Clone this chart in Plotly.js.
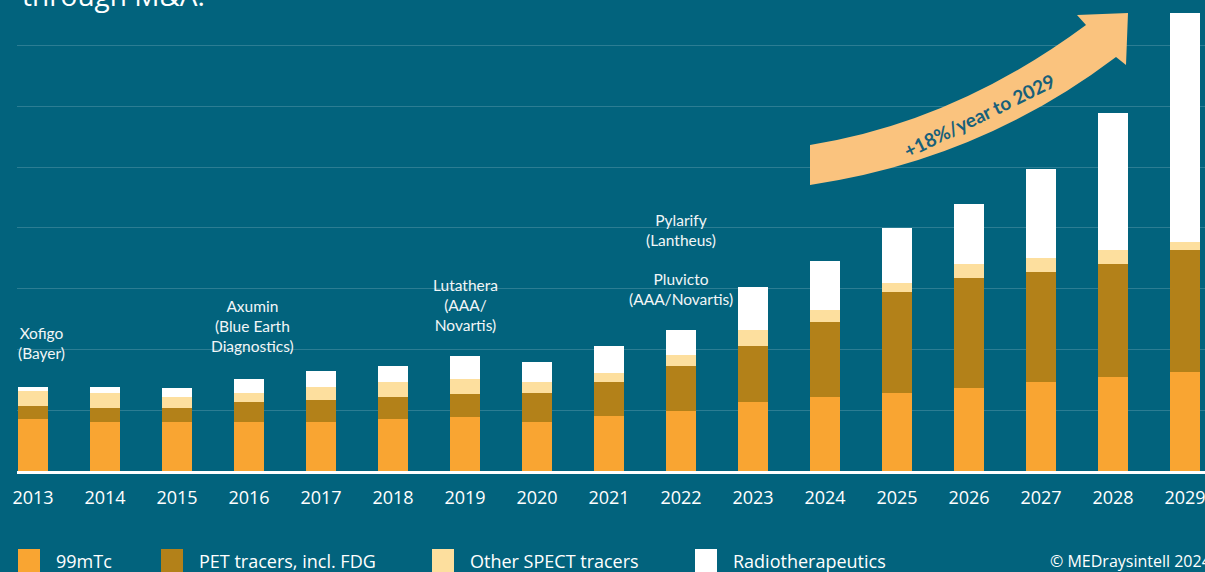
<!DOCTYPE html>
<html>
<head>
<meta charset="utf-8">
<script src="https://cdn.plot.ly/plotly-3.0.1.min.js"></script>
<style>
html,body{margin:0;padding:0;background:#02637D;}
#chart{width:1205px;height:572px;}
</style>
</head>
<body>
<div id="chart"></div>
<script>
// ---- data (one gridline = 1 unit) ----
const years = ["2013","2014","2015","2016","2017","2018","2019","2020","2021","2022","2023","2024","2025","2026","2027","2028","2029"];
const tc99m      = [0.85,0.81,0.81,0.81,0.81,0.86,0.89,0.81,0.91,0.99,1.14,1.22,1.28,1.37,1.47,1.55,1.63];
const petTracers = [0.22,0.22,0.22,0.32,0.35,0.36,0.38,0.47,0.55,0.74,0.92,1.23,1.66,1.80,1.80,1.85,2.00];
const otherSpect = [0.25,0.25,0.19,0.15,0.22,0.25,0.24,0.18,0.16,0.17,0.26,0.20,0.16,0.23,0.23,0.24,0.14];
const radioTher  = [0.06,0.10,0.15,0.23,0.26,0.26,0.38,0.33,0.44,0.42,0.70,0.80,0.89,0.99,1.46,2.25,3.77];
const seriesNames = ["99mTc","PET tracers, incl. FDG","Other SPECT tracers","Radiotherapeutics"];
const seriesColors = ["#F9A532","#B38119","#FDDF9E","#FFFFFF"];
const launchYears  = ["2013","2016","2019","2022","2022"];
const launchLevels = [2.11, 2.385, 2.73, 3.97, 3.0];
const launchTexts  = ["Xofigo<br>(Bayer)","Axumin<br>(Blue Earth<br>Diagnostics)","Lutathera<br>(AAA/<br>Novartis)","Pylarify<br>(Lantheus)","Pluvicto<br>(AAA/Novartis)"];
const growthLabel = "+18%/year to 2029";
const titleTail = "through M&A.";
const copyright = "© MEDraysintell 2024";

// ---- layout helpers (pixel -> paper) ----
const L = 17, T = 0, PW = 1188, PH = 471;
const px = x => (x - L) / PW;
const py = y => (PH + T - y) / PH;

const values = [tc99m, petTracers, otherSpect, radioTher];
const traces = values.map((v, i) => ({
  type: "bar", x: years, y: v, name: seriesNames[i],
  marker: {color: seriesColors[i], line: {width: 0}},
  hoverinfo: "x+y+name"
}));

const shapes = [];
const annotations = [];

// growth arrow
const arrowPath =
  "M" + px(810) + "," + py(145) +
  " Q" + px(955) + "," + py(122) + " " + px(1086) + "," + py(25) +
  " L" + px(1077) + "," + py(15) +
  " L" + px(1128) + "," + py(13) +
  " L" + px(1126) + "," + py(65) +
  " L" + px(1116) + "," + py(57) +
  " Q" + px(980) + "," + py(160) + " " + px(810) + "," + py(185) + " Z";
shapes.push({type: "path", xref: "paper", yref: "paper", path: arrowPath,
  fillcolor: "#FAC37E", line: {width: 0}, layer: "above"});

annotations.push({xref: "paper", yref: "paper", x: px(979), y: py(116),
  xanchor: "center", yanchor: "middle",
  text: growthLabel, showarrow: false, textangle: -26,
  font: {family: "Lato", size: 19, weight: "bold", color: "#17607A"}});

// launch labels (x as category index)
const launchShift = [8, 3, 0, 0, 0];
launchYears.forEach((yr, i) => {
  annotations.push({xref: "x", yref: "y", x: years.indexOf(yr), y: launchLevels[i], text: launchTexts[i],
    showarrow: false, align: "center", xanchor: "center", yanchor: "middle", xshift: launchShift[i],
    font: {family: "Lato", size: 15.5, color: "#F2F6F7"}});
});

// title tail (cut off at the top)
annotations.push({xref: "paper", yref: "paper", x: px(20), y: 1, xanchor: "left", yanchor: "bottom",
  yshift: -16, text: titleTail, showarrow: false,
  font: {family: "Open Sans", size: 28, color: "#FFFFFF"}});

// manual legend
const legendX = [18, 161, 432, 695];
seriesNames.forEach((n, i) => {
  shapes.push({type: "rect", xref: "paper", yref: "paper",
    x0: px(legendX[i]), x1: px(legendX[i] + 22), y0: py(549), y1: py(580),
    fillcolor: seriesColors[i], line: {width: 0}});
  annotations.push({xref: "paper", yref: "paper", x: px(legendX[i] + 37), y: py(561),
    xanchor: "left", yanchor: "middle", text: n, showarrow: false, borderpad: 0,
    font: {family: "Open Sans", size: 18, color: "#FFFFFF"}});
});
annotations.push({xref: "paper", yref: "paper", x: px(1049), y: py(561),
  xanchor: "left", yanchor: "middle", text: copyright, showarrow: false, borderpad: 0,
  font: {family: "Open Sans", size: 16, color: "#FFFFFF"}});

const layout = {
  width: 1205, height: 572,
  margin: {l: L, r: 0, t: T, b: 572 - PH - T, pad: 0},
  paper_bgcolor: "#02637D", plot_bgcolor: "#02637D",
  barmode: "stack", bargap: 0.59,
  showlegend: false,
  xaxis: {type: "category", range: [-0.2222, 16.2778], showgrid: false, zeroline: false,
    showline: true, linecolor: "#FFFFFF", linewidth: 3,
    ticks: "outside", ticklen: 8, tickcolor: "rgba(0,0,0,0)",
    tickfont: {family: "Open Sans", size: 18, color: "#FFFFFF"}, fixedrange: true},
  yaxis: {range: [0, PH / 60.8], dtick: 1, showticklabels: false, zeroline: false,
    gridcolor: "rgba(255,255,255,0.17)", gridwidth: 1, showline: false, fixedrange: true},
  shapes: shapes,
  annotations: annotations
};

Plotly.newPlot("chart", traces, layout, {displayModeBar: false, staticPlot: true});
</script>
</body>
</html>
